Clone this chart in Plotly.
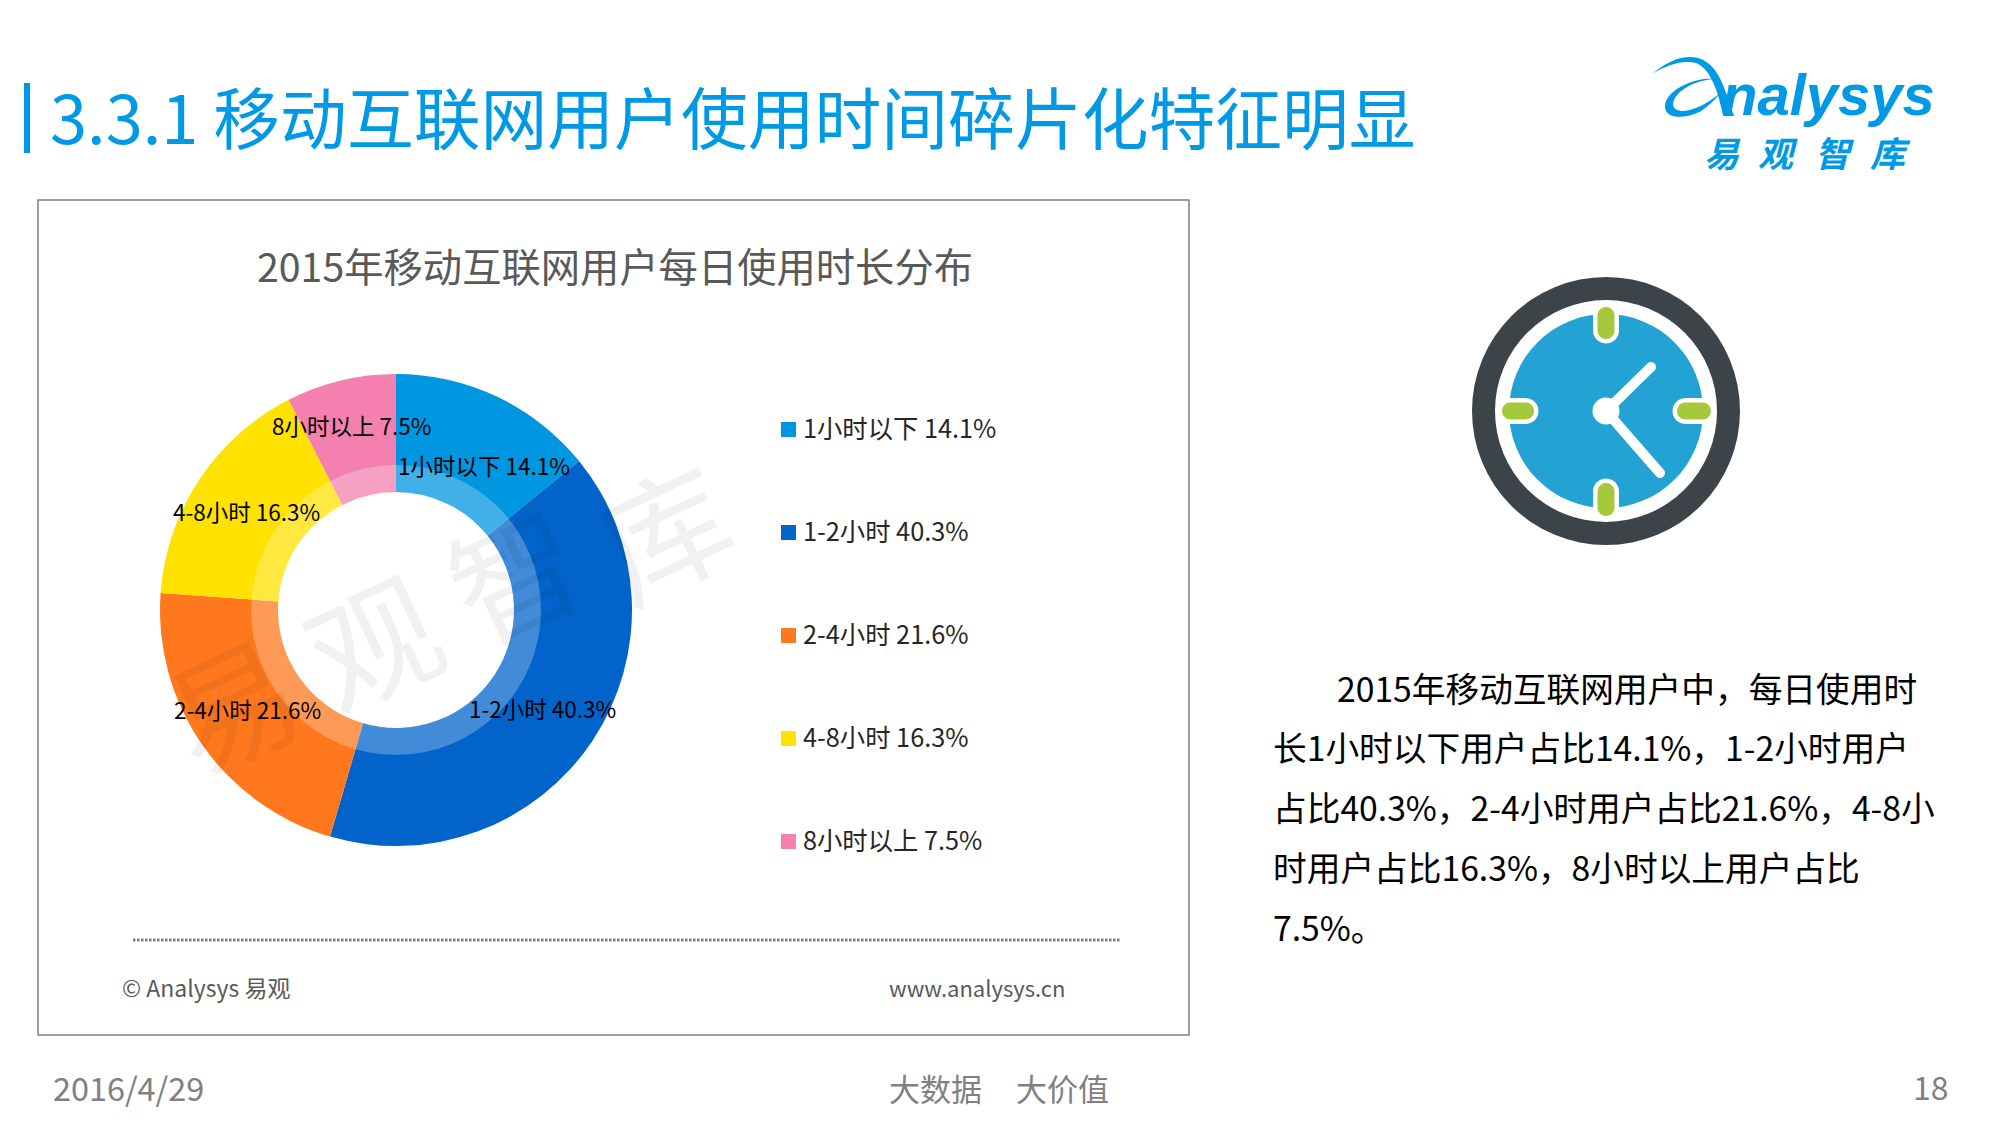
import math

import plotly.graph_objects as go

# data
categories = ["1小时以下", "1-2小时", "2-4小时", "4-8小时", "8小时以上"]
shares = [14.1, 40.3, 21.6, 16.3, 7.5]
slice_colors = ["#0096e0", "#0264cb", "#ff781e", "#ffe200", "#f380af"]

slide_title = "3.3.1 移动互联网用户使用时间碎片化特征明显"
chart_title = "2015年移动互联网用户每日使用时长分布"
body_lines = [
    "2015年移动互联网用户中，每日使用时",
    "长1小时以下用户占比14.1%，1-2小时用户",
    "占比40.3%，2-4小时用户占比21.6%，4-8小",
    "时用户占比16.3%，8小时以上用户占比",
    "7.5%。",
]

W, H = 2000, 1125
PAGE = 8  # browser body margin, axes below run in page pixels
FONT = "Noto Sans CJK SC"
BLUE = "#0099e5"

# donut geometry in page pixels
CX, CY, R_OUT, R_RING, R_HOLE = 396, 610, 236, 145, 118


def domain(r):
    return dict(
        x=[(CX - r - PAGE) / W, (CX + r - PAGE) / W],
        y=[1 - (CY + r - PAGE) / H, 1 - (CY - r - PAGE) / H],
    )


def text(x, y, s, size, color="#000000", anchor="left", family=FONT, weight=None, style=None, **kw):
    font = dict(family=family, size=size, color=color)
    if weight:
        font["weight"] = weight
    if style:
        font["style"] = style
    return dict(
        x=x, y=y, text=s, xref="x", yref="y", showarrow=False, xanchor=anchor,
        yanchor="middle", font=font, **kw,
    )


def circle(x, y, r, color):
    return dict(
        type="circle", xref="x", yref="y", x0=x - r, x1=x + r, y0=y - r, y1=y + r,
        fillcolor=color, line_width=0, layer="above",
    )


def capsule(x0, y0, x1, y1, r, color):
    # rounded bar between two centre points, for the clock ticks and hands
    ang = math.atan2(y1 - y0, x1 - x0)
    pts = []
    for i in range(13):
        a = ang + math.pi / 2 + math.pi * i / 12
        pts.append((x0 + r * math.cos(a), y0 + r * math.sin(a)))
    for i in range(13):
        a = ang - math.pi / 2 + math.pi * i / 12
        pts.append((x1 + r * math.cos(a), y1 + r * math.sin(a)))
    path = "M" + " L".join(f"{x:.1f},{y:.1f}" for x, y in pts) + " Z"
    return dict(type="path", xref="x", yref="y", path=path, fillcolor=color, line_width=0, layer="above")


def logo_path(d):
    # zoom-crop coordinates to page pixels
    out = []
    for tok in d.split():
        if "," in tok:
            a, b = tok.split(",")
            letter = ""
            if a[0].isalpha():
                letter, a = a[0], a[1:]
            out.append(f"{letter}{1640 + float(a) / 3:.1f},{40 + float(b) / 3:.1f}")
        else:
            out.append(tok)
    return dict(type="path", xref="x", yref="y", path=" ".join(out), fillcolor=BLUE, line_width=0)


fig = go.Figure()

fig.add_trace(
    go.Pie(
        values=shares,
        labels=categories,
        sort=False,
        direction="clockwise",
        hole=R_HOLE / R_OUT,
        domain=domain(R_OUT),
        marker=dict(colors=slice_colors, line=dict(width=0)),
        textinfo="none",
        hoverinfo="skip",
        showlegend=False,
    )
)
# the pale band on the inside of the donut
fig.add_trace(
    go.Pie(
        values=[1],
        hole=R_HOLE / R_RING,
        domain=domain(R_RING),
        marker=dict(colors=["rgba(255,255,255,0.25)"], line=dict(width=0)),
        textinfo="none",
        hoverinfo="skip",
        showlegend=False,
    )
)

# legend column, swatches as a marker trace and the names as text beside them
legend_y = [429.5 + 103 * i for i in range(len(categories))]
fig.add_trace(
    go.Scatter(
        x=[788.5] * len(categories),
        y=legend_y,
        mode="markers",
        marker=dict(symbol="square", size=15, color=slice_colors, line=dict(width=0)),
        hoverinfo="skip",
        showlegend=False,
    )
)

annotations = [
    text(48, 115, slide_title, 66.8, BLUE),
    text(615, 264, chart_title, 39.3, "#595959", anchor="center"),
    text(120, 987, "© Analysys 易观", 23, "#595959"),
    text(887, 987, "www.analysys.cn", 22, "#595959"),
    text(51, 1086, "2016/4/29", 32.4, "#808080"),
    text(887, 1087, "大数据", 31, "#808080"),
    text(1014, 1087, "大价值", 31, "#808080"),
    text(1951, 1086, "18", 32, "#808080", anchor="right"),
    text(1720, 94, "nalysys", 58, BLUE, family="Liberation Sans", weight="bold", style="italic"),
]
for i, ch in enumerate("易观智库"):
    annotations.append(text(1722 + 56 * i, 151, ch, 35, BLUE, anchor="center", weight="bold", style="italic"))

for y, cat, val in zip(legend_y, categories, shares):
    annotations.append(text(800.5, y - 2.5, f"{cat} {val}%", 25.3, "#262626"))

# labels on the donut
label_pos = [(396, 464.5), (466.5, 707.5), (171.5, 708.5), (171, 510.5), (270, 424.5)]
for (x, y), cat, val in zip(label_pos, categories, shares):
    annotations.append(text(x, y, f"{cat} {val}%", 22.5))

# watermark
for x, y, ch in [(230, 700, "易"), (371, 637, "观"), (512, 570, "智"), (662, 527, "库")]:
    annotations.append(text(x, y, ch, 128, "rgba(0,0,0,0.055)", anchor="center", textangle=-25))

# body text
body_y = [687, 746, 806, 866, 926]
for i, (line, y) in enumerate(zip(body_lines, body_y)):
    annotations.append(text(1335 if i == 0 else 1271, y, line, 33.7))

shapes = [
    dict(type="rect", xref="x", yref="y", x0=24, x1=30, y0=83, y1=153, fillcolor=BLUE, line_width=0),
    dict(type="rect", xref="x", yref="y", x0=38, x1=1189, y0=200, y1=1035,
         fillcolor="rgba(0,0,0,0)", line=dict(color="#808080", width=1.5), layer="below"),
    dict(type="line", xref="x", yref="y", x0=133, x1=1120, y0=940, y1=940,
         line=dict(color="#808080", width=3, dash="2.5px,1.5px")),
    logo_path("M40,100 C90,55 150,40 190,60 C235,85 250,130 282,228 L250,228 C235,160 215,90 170,70 C130,58 80,75 40,100 Z"),
    logo_path("M245,118 C170,105 75,150 75,200 C75,240 140,235 180,215 C205,200 225,180 240,160 C210,185 160,215 125,213 C85,210 95,170 135,145 C170,122 215,115 245,118 Z"),
    # clock
    circle(1606, 411, 134, "#3c4449"),
    circle(1606, 411, 111, "#ffffff"),
    circle(1606, 411, 97, "#23a3d4"),
]
tick_ends = [
    (1606, 315.5, 1606, 330.5),
    (1606, 491.5, 1606, 507.5),
    (1510.5, 411, 1525.5, 411),
    (1685.5, 411, 1702.5, 411),
]
for x0, y0, x1, y1 in tick_ends:
    shapes.append(capsule(x0, y0, x1, y1, 13, "#ffffff"))
for x0, y0, x1, y1 in tick_ends:
    shapes.append(capsule(x0, y0, x1, y1, 8.5, "#a6c93c"))
shapes += [
    capsule(1606, 411, 1651, 367, 5, "#ffffff"),
    capsule(1606, 411, 1660, 473, 5, "#ffffff"),
    circle(1606, 411, 13.5, "#ffffff"),
]

fig.update_layout(
    width=W,
    height=H,
    margin=dict(l=0, r=0, t=0, b=0),
    paper_bgcolor="white",
    plot_bgcolor="rgba(0,0,0,0)",
    font=dict(family=FONT),
    xaxis=dict(visible=False, range=[PAGE, W + PAGE], domain=[0, 1], fixedrange=True),
    yaxis=dict(visible=False, range=[H + PAGE, PAGE], domain=[0, 1], fixedrange=True),
    annotations=annotations,
    shapes=shapes,
    showlegend=False,
)

fig.write_html("out.html")
